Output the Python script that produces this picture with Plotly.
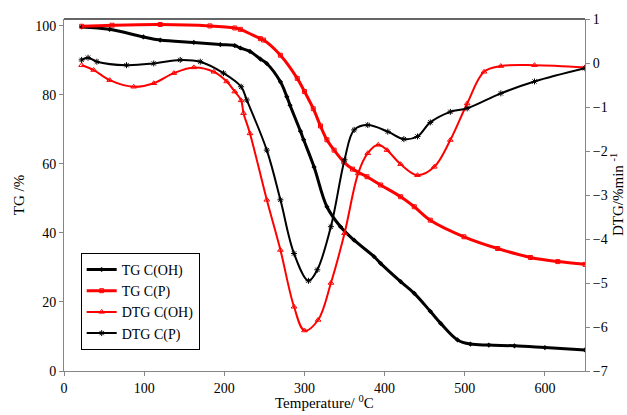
import plotly.graph_objects as go

# ---- data ----
tg_oh_T = [22, 57, 99, 120, 162, 195, 213, 220, 232, 245, 253, 270, 278, 282, 295, 299, 312, 328, 345, 362, 387, 395, 420, 437, 457, 470, 491, 507, 530, 562, 600, 650]
tg_oh_v = [99.7, 99.0, 96.8, 95.9, 95.2, 94.6, 94.3, 93.6, 92.6, 90.4, 89.1, 83.8, 79.5, 77.0, 69.5, 67.0, 59.1, 47.6, 41.8, 37.9, 33.1, 31.2, 25.9, 22.5, 17.3, 13.8, 9.0, 7.8, 7.5, 7.3, 6.8, 6.1]

tg_p_T = [22, 60, 120, 182, 213, 220, 245, 249, 270, 291, 300, 311, 320, 328, 337, 349, 360, 378, 395, 420, 437, 457, 499, 541, 582, 616, 650]
tg_p_v = [99.9, 100.2, 100.4, 100.0, 99.4, 99.0, 96.3, 95.9, 91.5, 84.8, 81.0, 76.0, 71.0, 67.0, 64.0, 60.6, 58.5, 56.3, 53.9, 50.5, 47.6, 43.7, 38.9, 35.5, 32.9, 31.7, 30.9]

dtg_oh_T = [22, 37, 57, 87, 112, 137, 162, 187, 203, 213, 221, 224, 232, 253, 270, 287, 300, 317, 333, 350, 367, 379, 392, 403, 420, 441, 462, 482, 503, 524, 545, 587, 650]
dtg_oh_v = [-0.05, -0.16, -0.39, -0.54, -0.46, -0.23, -0.10, -0.20, -0.42, -0.65, -0.85, -1.14, -1.60, -3.11, -4.25, -5.54, -6.08, -5.84, -5.00, -3.87, -2.51, -2.05, -1.86, -1.98, -2.30, -2.55, -2.36, -1.75, -0.92, -0.20, -0.07, -0.05, -0.10]

dtg_p_T = [22, 30, 41, 78, 112, 145, 170, 199, 221, 228, 253, 270, 287, 305, 316, 333, 350, 362, 379, 404, 424, 441, 457, 482, 503, 545, 587, 650]
dtg_p_v = [0.07, 0.12, 0.03, -0.05, -0.01, 0.07, 0.03, -0.23, -0.54, -0.84, -1.98, -3.11, -4.33, -4.95, -4.70, -3.72, -2.20, -1.52, -1.41, -1.56, -1.73, -1.67, -1.35, -1.11, -1.03, -0.69, -0.42, -0.12]

x_ticks = [0, 100, 200, 300, 400, 500, 600]
y_ticks = [0, 20, 40, 60, 80, 100]
y2_ticks = [1, 0, -1, -2, -3, -4, -5, -6, -7]

FONT = "Liberation Serif"

fig = go.Figure()
fig.add_trace(go.Scatter(x=tg_oh_T, y=tg_oh_v, name="TG C(OH)", mode="lines+markers",
                         line=dict(color="black", width=3, shape="spline"),
                         marker=dict(symbol="diamond", size=4, color="black")))
fig.add_trace(go.Scatter(x=tg_p_T, y=tg_p_v, name="TG C(P)", mode="lines+markers",
                         line=dict(color="red", width=3, shape="spline"),
                         marker=dict(symbol="square-open", size=4, color="red", line=dict(width=1))))
fig.add_trace(go.Scatter(x=dtg_oh_T, y=dtg_oh_v, name="DTG C(OH)", mode="lines+markers", yaxis="y2",
                         line=dict(color="red", width=2, shape="spline"),
                         marker=dict(symbol="triangle-up-open", size=5, color="red", line=dict(width=1))))
fig.add_trace(go.Scatter(x=dtg_p_T, y=dtg_p_v, name="DTG C(P)", mode="lines+markers", yaxis="y2",
                         line=dict(color="black", width=2, shape="spline"),
                         marker=dict(symbol="asterisk-open", size=5, color="black", line=dict(width=1, color="black"))))

axis_common = dict(showline=True, linecolor="#868686", linewidth=1, ticks="outside",
                   ticklen=4, tickcolor="#868686", showgrid=False, zeroline=False,
                   automargin=False,
                   tickfont=dict(family=FONT, size=14, color="black"))

fig.update_layout(
    width=627, height=415,
    margin=dict(l=64, r=42, t=19, b=44),
    paper_bgcolor="white", plot_bgcolor="white",
    font=dict(family=FONT, size=14, color="black"),
    xaxis=dict(range=[0, 650], tickvals=x_ticks, **axis_common),
    yaxis=dict(range=[0, 102], tickvals=y_ticks,
               title=dict(text="TG /%", font=dict(family=FONT, size=15), standoff=6),
               **axis_common),
    yaxis2=dict(range=[-7, 1], tickvals=y2_ticks, overlaying="y", side="right", **axis_common),
    legend=dict(x=0.032, y=0.06, xanchor="left", yanchor="bottom",
                bgcolor="white", bordercolor="black", borderwidth=1,
                font=dict(family=FONT, size=14, color="black"),
                tracegroupgap=0, itemwidth=30),
    showlegend=True,
)
# axis titles as annotations (exact placement)
fig.add_annotation(text="Temperature/ <sup>0</sup>C", xref="paper", yref="paper",
                   x=0.5, y=-0.088, xanchor="center", yanchor="middle", showarrow=False,
                   font=dict(family=FONT, size=15, color="black"))
fig.add_annotation(text="DTG/%min <sup>-1</sup>", xref="paper", yref="paper",
                   x=1.0, xshift=32, y=0.5, xanchor="center", yanchor="middle", showarrow=False,
                   textangle=-90, font=dict(family=FONT, size=15, color="black"))
# top border of the plot area
fig.add_shape(type="line", xref="paper", yref="paper", x0=0, x1=1, y0=1, y1=1,
              line=dict(color="#333333", width=1.5))

fig.write_html("out.html", config={"displayModeBar": False},
               post_script="document.body.style.margin='0';document.body.style.padding='0';")
